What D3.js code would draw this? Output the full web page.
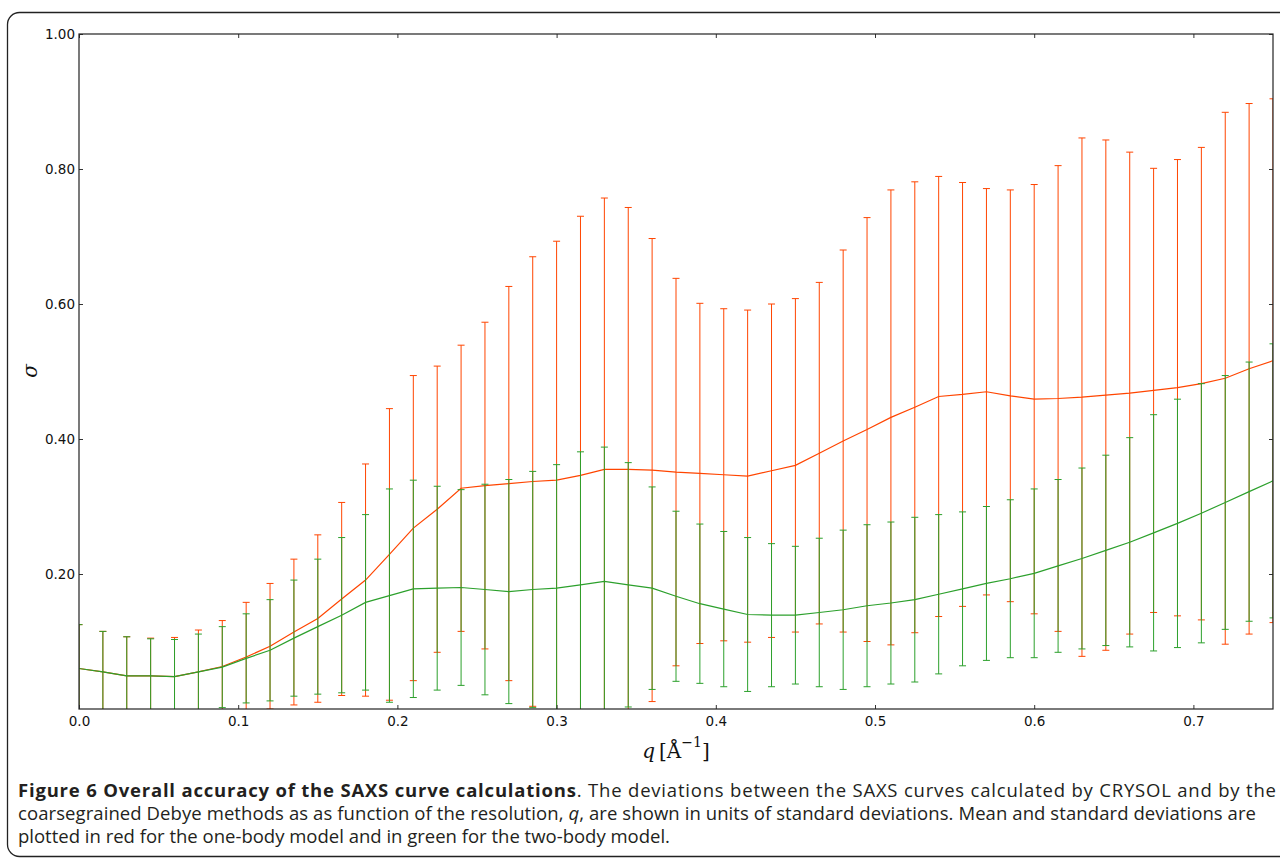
<!DOCTYPE html>
<html>
<head>
<meta charset="utf-8">
<script src="https://cdn.jsdelivr.net/npm/d3@7"></script>
<style>
  body { margin: 0; background: #fff; }
  svg { display: block; }
  .tick text { font-family: "DejaVu Sans", sans-serif; font-size: 13.5px; fill: #111; }
  .tick line { stroke: #333; }
  .caption { font-family: "Open Sans", sans-serif; font-size: 18.5px; fill: #231f20; }
</style>
</head>
<body>
<div id="chart"></div>
<script>
const width = 1280;
const height = 859;

// resolution q [1/Å]
const q = [0, 0.015, 0.03, 0.045, 0.06, 0.075, 0.09, 0.105, 0.12, 0.135,
           0.15, 0.165, 0.18, 0.195, 0.21, 0.225, 0.24, 0.255, 0.27, 0.285,
           0.3, 0.315, 0.33, 0.345, 0.36, 0.375, 0.39, 0.405, 0.42, 0.435,
           0.45, 0.465, 0.48, 0.495, 0.51, 0.525, 0.54, 0.555, 0.57, 0.585,
           0.6, 0.615, 0.63, 0.645, 0.66, 0.675, 0.69, 0.705, 0.72, 0.735, 0.75];

// one-body model (red): mean and standard deviation
const oneBodyMean = [0.060, 0.055, 0.049, 0.049, 0.048, 0.055, 0.063, 0.077, 0.093, 0.114,
                     0.134, 0.163, 0.191, 0.229, 0.268, 0.296, 0.327, 0.331, 0.334, 0.337,
                     0.339, 0.346, 0.355, 0.355, 0.354, 0.351, 0.349, 0.347, 0.345, 0.353,
                     0.361, 0.379, 0.397, 0.414, 0.432, 0.447, 0.463, 0.466, 0.470, 0.464,
                     0.459, 0.460, 0.462, 0.465, 0.468, 0.472, 0.476, 0.482, 0.490, 0.504, 0.516];
const oneBodyStd = [0.065, 0.060, 0.058, 0.056, 0.058, 0.062, 0.068, 0.081, 0.093, 0.108,
                    0.124, 0.143, 0.172, 0.216, 0.226, 0.212, 0.212, 0.242, 0.292, 0.333,
                    0.354, 0.384, 0.402, 0.388, 0.343, 0.287, 0.252, 0.246, 0.246, 0.247,
                    0.247, 0.253, 0.283, 0.314, 0.337, 0.334, 0.326, 0.314, 0.301, 0.305,
                    0.318, 0.345, 0.384, 0.378, 0.357, 0.329, 0.338, 0.350, 0.394, 0.393, 0.388];

// two-body model (green): mean and standard deviation
const twoBodyMean = [0.060, 0.055, 0.049, 0.049, 0.048, 0.055, 0.062, 0.075, 0.087, 0.105,
                     0.122, 0.139, 0.158, 0.168, 0.178, 0.179, 0.180, 0.177, 0.174, 0.177,
                     0.179, 0.184, 0.189, 0.184, 0.179, 0.167, 0.156, 0.148, 0.140, 0.139,
                     0.139, 0.143, 0.147, 0.153, 0.157, 0.162, 0.170, 0.178, 0.186, 0.193,
                     0.201, 0.212, 0.223, 0.235, 0.247, 0.261, 0.275, 0.290, 0.306, 0.322, 0.338];
const twoBodyStd = [0.065, 0.060, 0.058, 0.055, 0.055, 0.056, 0.060, 0.066, 0.075, 0.086,
                    0.100, 0.115, 0.130, 0.158, 0.161, 0.151, 0.145, 0.156, 0.166, 0.175,
                    0.183, 0.197, 0.199, 0.181, 0.150, 0.126, 0.118, 0.115, 0.114, 0.106,
                    0.102, 0.110, 0.118, 0.120, 0.120, 0.122, 0.118, 0.114, 0.114, 0.117,
                    0.125, 0.128, 0.134, 0.141, 0.155, 0.175, 0.184, 0.192, 0.188, 0.192, 0.203];

const xTicks = [0, 0.1, 0.2, 0.3, 0.4, 0.5, 0.6, 0.7];
const yTicks = [0.2, 0.4, 0.6, 0.8, 1.0];

const captionLines = [
  [["Figure 6 Overall accuracy of the SAXS curve calculations", "bold"],
   [". The deviations between the SAXS curves calculated by CRYSOL and by the", "normal"]],
  [["coarsegrained Debye methods as as function of the resolution, ", "normal"],
   ["q", "italic"],
   [", are shown in units of standard deviations. Mean and standard deviations are", "normal"]],
  [["plotted in red for the one-body model and in green for the two-body model.", "normal"]]
];
const captionWidth = [1258, 1238, null]; // line 3 keeps its natural width

const plot = { left: 79, top: 34, right: 1273, bottom: 709 };

const svg = d3.select("#chart")
              .append("svg")
              .attr("width", width)
              .attr("height", height);

// rounded figure frame
svg.append("rect")
   .attr("x", 7.5).attr("y", 12.5)
   .attr("width", 1300).attr("height", 844)
   .attr("rx", 12)
   .attr("fill", "none")
   .attr("stroke", "#222")
   .attr("stroke-width", 1.3);

const x = d3.scaleLinear().domain([0, 0.75]).range([plot.left, plot.right]);
const y = d3.scaleLinear().domain([0, 1]).range([plot.bottom, plot.top]);

svg.append("clipPath").attr("id", "plot-clip")
   .append("rect")
   .attr("x", plot.left).attr("y", plot.top)
   .attr("width", plot.right - plot.left)
   .attr("height", plot.bottom - plot.top);

const series = [
  { mean: oneBodyMean, std: oneBodyStd, color: "#ff4500" },
  { mean: twoBodyMean, std: twoBodyStd, color: "#2ca02c" }
];

const capHalf = 3.5;
const marks = svg.append("g").attr("clip-path", "url(#plot-clip)");

series.forEach(s => {
  const pts = q.map((d, i) => ({ q: d, m: s.mean[i], sd: s.std[i] }));
  const g = marks.append("g")
                 .attr("stroke", s.color)
                 .attr("stroke-width", 1)
                 .attr("fill", "none");

  const bars = g.selectAll(".bar").data(pts).enter().append("g").attr("class", "bar");
  bars.append("line")
      .attr("x1", d => x(d.q)).attr("x2", d => x(d.q))
      .attr("y1", d => y(d.m - d.sd)).attr("y2", d => y(d.m + d.sd));
  bars.append("line")
      .attr("x1", d => x(d.q) - capHalf).attr("x2", d => x(d.q) + capHalf)
      .attr("y1", d => y(d.m + d.sd)).attr("y2", d => y(d.m + d.sd));
  bars.append("line")
      .attr("x1", d => x(d.q) - capHalf).attr("x2", d => x(d.q) + capHalf)
      .attr("y1", d => y(d.m - d.sd)).attr("y2", d => y(d.m - d.sd));

  g.append("path")
   .datum(pts)
   .attr("stroke-width", 1.2)
   .attr("d", d3.line().x(d => x(d.q)).y(d => y(d.m)));
});

// axes, ticks pointing inwards
const xAxis = svg.append("g")
   .attr("transform", `translate(0,${plot.bottom})`)
   .call(d3.axisBottom(x).tickValues(xTicks).tickFormat(d3.format(".1f")).tickSize(-4).tickPadding(7));
const yAxis = svg.append("g")
   .attr("transform", `translate(${plot.left},0)`)
   .call(d3.axisLeft(y).tickValues(yTicks).tickFormat(d3.format(".2f")).tickSize(-4).tickPadding(4));
const topAxis = svg.append("g")
   .attr("transform", `translate(0,${plot.top})`)
   .call(d3.axisTop(x).tickValues(xTicks).tickFormat("").tickSize(-4));
const rightAxis = svg.append("g")
   .attr("transform", `translate(${plot.right},0)`)
   .call(d3.axisRight(y).tickValues(yTicks).tickFormat("").tickSize(-4));

[xAxis, yAxis, topAxis, rightAxis].forEach(a => a.select(".domain").remove());

svg.append("rect")
   .attr("x", plot.left).attr("y", plot.top)
   .attr("width", plot.right - plot.left)
   .attr("height", plot.bottom - plot.top)
   .attr("fill", "none")
   .attr("stroke", "#222")
   .attr("stroke-width", 1.2);

// axis labels
const xLabel = svg.append("text")
   .attr("x", (plot.left + plot.right) / 2)
   .attr("y", 758)
   .attr("text-anchor", "middle")
   .style("font-family", "'DejaVu Serif', serif")
   .style("font-size", "20px")
   .attr("fill", "#111");
xLabel.append("tspan").style("font-style", "italic").text("q");
xLabel.append("tspan").text("\u2009[\u00C5");
xLabel.append("tspan").attr("dy", -11).style("font-size", "14px").text("\u22121");
xLabel.append("tspan").attr("dy", 11).text("]");

svg.append("text")
   .attr("transform", "translate(37,371) rotate(-90)")
   .attr("text-anchor", "middle")
   .style("font-family", "'DejaVu Serif', serif")
   .style("font-size", "20px")
   .style("font-style", "italic")
   .attr("fill", "#111")
   .text("\u03C3");

// caption
const captionY = [797, 820, 843];
captionLines.forEach((line, i) => {
  const t = svg.append("text")
     .attr("class", "caption")
     .attr("x", 18)
     .attr("y", captionY[i]);
  if (captionWidth[i]) t.attr("textLength", captionWidth[i]).attr("lengthAdjust", "spacing");
  line.forEach(([txt, style]) => {
    const ts = t.append("tspan").text(txt);
    if (style === "bold") ts.style("font-weight", "bold");
    if (style === "italic") ts.style("font-style", "italic");
  });
});
</script>
</body>
</html>
